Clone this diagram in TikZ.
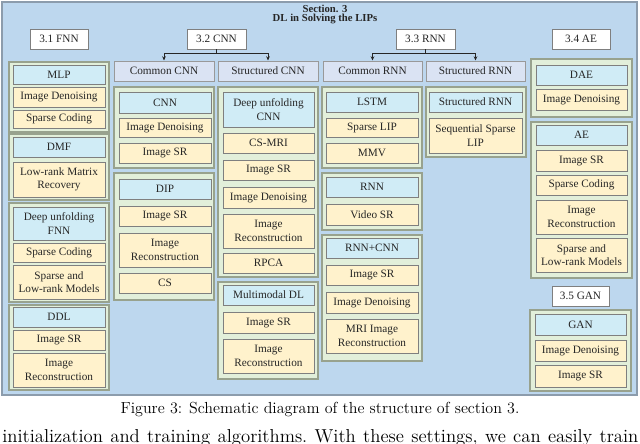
\documentclass[tikz,border=0pt]{standalone}
\usepackage{fontspec}
\usepackage{tikz}
\usetikzlibrary{arrows.meta}
\newfontfamily\boxfont{Liberation Serif}
\definecolor{panelblue}{HTML}{BDD7EE}
\definecolor{paneledge}{HTML}{8C9CAC}
\definecolor{groupgreen}{HTML}{E2EFDA}
\definecolor{groupedge}{HTML}{98A28E}
\definecolor{methodblue}{HTML}{D0ECF6}
\definecolor{taskyellow}{HTML}{FFF2CC}
\definecolor{subhead}{HTML}{DAE3F3}
\definecolor{boxedge}{HTML}{7F7F7F}
\definecolor{boxtext}{HTML}{262626}
\tikzset{
    corners/.style args={#1/#2/#3/#4}{
        at={(0.5*#1+0.5*#3, 0.5*#2+0.5*#4)},
        minimum width={(#3-#1)*0.025cm},
        minimum height={(#4-#2)*0.025cm}
    },
    panel box/.style={
        draw=paneledge,
        fill=panelblue,
        line width=0.8pt
    },
    base box/.style={
        rectangle,
        inner sep=0pt,
        align=center,
        text=boxtext,
        font=\boxfont\fontsize{8}{9.6}\selectfont,
        line width=0.7pt
    },
    head box/.style={base box, draw=boxedge, fill=white},
    sub box/.style={base box, draw=boxedge!80, fill=subhead},
    group box/.style={base box, draw=groupedge, fill=groupgreen, line width=0.8pt},
    method box/.style={base box, draw=boxedge, fill=methodblue},
    task box/.style={base box, draw=boxedge, fill=taskyellow},
    fork/.style={draw=black!85, line width=0.6pt},
    fork arrow/.style={fork, -{Stealth[length=3pt, width=2.6pt]}}
}

\begin{document}
\begin{tikzpicture}[x=0.025cm, y=-0.025cm]
    \useasboundingbox (0,0) rectangle (640,444);

    % Background panel and title
    \draw[panel box] (2,2) rectangle (637,395);
    \node[font=\boxfont\bfseries\fontsize{7.6}{6.6}\selectfont, text=boxtext, inner sep=0pt, align=center] (title) at (325,14.5)
        {Section. 3\\DL in Solving the LIPs};

    % Section headers
    \node[head box, corners=30/29/88/49] (fnn) {3.1 FNN};
    \node[head box, corners=187/29/246/49] (cnn) {3.2 CNN};
    \node[head box, corners=396/29/455/49] (rnn) {3.3 RNN};
    \node[head box, corners=552/29/610/49] (ae) {3.4 AE};
    \node[head box, corners=552/286/609/306] (gan) {3.5 GAN};

    % Sub headers
    \node[sub box, corners=114/61/214/81] (cnncommon) {Common CNN};
    \node[sub box, corners=218/61/318/81] (cnnstruct) {Structured CNN};
    \node[sub box, corners=323/61/422/81] (rnncommon) {Common RNN};
    \node[sub box, corners=426/61/525/81] (rnnstruct) {Structured RNN};

    % Forks
    \coordinate (cnnfork) at (216.5,53);
    \coordinate (rnnfork) at (425.5,53);
    \draw[fork] (cnn.south) -- (cnnfork);
    \draw[fork arrow] (cnnfork) -| (cnncommon.north);
    \draw[fork arrow] (cnnfork) -| (cnnstruct.north);
    \draw[fork] (rnn.south) -- (rnnfork);
    \draw[fork arrow] (rnnfork) -| (rnncommon.north);
    \draw[fork arrow] (rnnfork) -| (rnnstruct.north);

    % 3.1 FNN
    \node[group box, corners=9/62/109/132] (mlpgrp) {};
    \node[method box, corners=13/65/105/84] (mlp) {MLP};
    \node[task box, corners=13/87/105/107] (mlpden) {Image Denoising};
    \node[task box, corners=13/110/105/128] (mlpsc) {Sparse Coding};

    \node[group box, corners=9/134/109/200] (dmfgrp) {};
    \node[method box, corners=13/137/105/157] (dmf) {DMF};
    \node[task box, corners=13/162/105/197] (dmflr) {Low-rank Matrix\\Recovery};

    \node[group box, corners=9/203/109/302] (dufgrp) {};
    \node[method box, corners=13/207/105/240] (duf) {Deep unfolding\\FNN};
    \node[task box, corners=13/243/105/262] (dufsc) {Sparse Coding};
    \node[task box, corners=13/265/105/299] (duflr) {Sparse and\\Low-rank Models};

    \node[group box, corners=9/305/109/390] (ddlgrp) {};
    \node[method box, corners=13/307/105/327] (ddl) {DDL};
    \node[task box, corners=13/330/105/350] (ddlsr) {Image SR};
    \node[task box, corners=13/353/105/387] (ddlrec) {Image\\Reconstruction};

    % 3.2 CNN, common
    \node[group box, corners=114/87/214/168] (cnngrp) {};
    \node[method box, corners=119/92/211/113] (cnnm) {CNN};
    \node[task box, corners=119/118/211/137] (cnnden) {Image Denoising};
    \node[task box, corners=119/143/211/163] (cnnsr) {Image SR};

    \node[group box, corners=114/173/214/300] (dipgrp) {};
    \node[method box, corners=119/179/211/199] (dip) {DIP};
    \node[task box, corners=119/206/211/226] (dipsr) {Image SR};
    \node[task box, corners=119/233/211/267] (diprec) {Image\\Reconstruction};
    \node[task box, corners=119/273/211/293] (dipcs) {CS};

    % 3.2 CNN, structured
    \node[group box, corners=218/87/318/277] (ducgrp) {};
    \node[method box, corners=223/92/314/127] (duc) {Deep unfolding\\CNN};
    \node[task box, corners=223/133/314/153] (duccs) {CS-MRI};
    \node[task box, corners=223/160/314/180] (ducsr) {Image SR};
    \node[task box, corners=223/187/314/208] (ducden) {Image Denoising};
    \node[task box, corners=223/214/314/248] (ducrec) {Image\\Reconstruction};
    \node[task box, corners=223/253/314/273] (ducrpca) {RPCA};

    \node[group box, corners=218/282/318/379] (mmgrp) {};
    \node[method box, corners=223/285/314/305] (mm) {Multimodal DL};
    \node[task box, corners=223/312/314/333] (mmsr) {Image SR};
    \node[task box, corners=223/339/314/373] (mmrec) {Image\\Reconstruction};

    % 3.3 RNN, common
    \node[group box, corners=322/87/422/168] (lstmgrp) {};
    \node[method box, corners=326/92/418/112] (lstm) {LSTM};
    \node[task box, corners=326/118/418/137] (lstmsp) {Sparse LIP};
    \node[task box, corners=326/143/418/163] (lstmmmv) {MMV};

    \node[group box, corners=322/173/422/230] (rnngrp) {};
    \node[method box, corners=326/177/418/197] (rnnm) {RNN};
    \node[task box, corners=326/204/418/225] (rnnvsr) {Video SR};

    \node[group box, corners=322/235/422/361] (rcgrp) {};
    \node[method box, corners=326/238/418/258] (rc) {RNN+CNN};
    \node[task box, corners=326/265/418/285] (rcsr) {Image SR};
    \node[task box, corners=326/292/418/313] (rcden) {Image Denoising};
    \node[task box, corners=326/319/418/353] (rcmri) {MRI Image\\Reconstruction};

    % 3.3 RNN, structured
    \node[group box, corners=426/87/526/157] (srnngrp) {};
    \node[method box, corners=429/92/522/112] (srnn) {Structured RNN};
    \node[task box, corners=429/118/522/153] (srnnsp) {Sequential Sparse\\LIP};

    % 3.4 AE
    \node[group box, corners=531/59/632/117] (daegrp) {};
    \node[method box, corners=536/65/627/85] (dae) {DAE};
    \node[task box, corners=536/89/627/110] (daeden) {Image Denoising};

    \node[group box, corners=531/122/632/278] (aegrp) {};
    \node[method box, corners=536/125/627/145] (aem) {AE};
    \node[task box, corners=536/150/627/171] (aesr) {Image SR};
    \node[task box, corners=536/175/627/195] (aesc) {Sparse Coding};
    \node[task box, corners=536/200/627/234] (aerec) {Image\\Reconstruction};
    \node[task box, corners=536/238/627/272] (aelr) {Sparse and\\Low-rank Models};

    % 3.5 GAN
    \node[group box, corners=530/310/631/391] (gangrp) {};
    \node[method box, corners=535/314/626/335] (ganm) {GAN};
    \node[task box, corners=535/340/626/361] (ganden) {Image Denoising};
    \node[task box, corners=535/365/626/387] (gansr) {Image SR};

    % Caption and following text
    \node[font=\fontsize{11.4}{13}\selectfont, inner sep=0pt, anchor=base] (caption) at (320,414)
        {Figure 3: Schematic diagram of the structure of section 3.};
    \node[font=\fontsize{13.3}{15}\selectfont, inner sep=0pt, anchor=base west] (bodytext) at (2,443)
        {\frenchspacing\hbox to 15.9cm{initialization and training algorithms. With these settings, we can easily train}};
\end{tikzpicture}
\end{document}
